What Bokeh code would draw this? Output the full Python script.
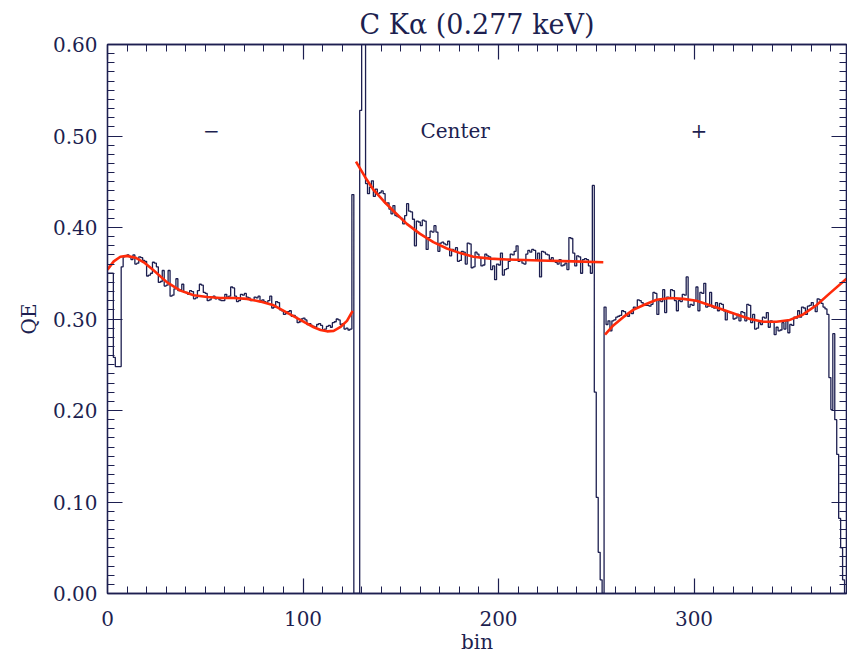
import numpy as np
from bokeh.plotting import figure
from bokeh.models import (Range1d, LinearAxis, SingleIntervalTicker, FixedTicker, PrintfTickFormatter,
                          CustomJSTickFormatter, ColumnDataSource)
from bokeh.core.properties import value
from bokeh.embed import file_html
from bokeh.resources import INLINE

# ---------------- data ----------------
# QE per bin, "-" side (bins 0..127)
qe_minus = [
    0.350, 0.350, 0.350, 0.258, 0.248, 0.248, 0.248, 0.357, 0.368, 0.369,
    0.370, 0.368, 0.365, 0.370, 0.360, 0.361, 0.368, 0.367, 0.364, 0.363,
    0.347, 0.348, 0.350, 0.362, 0.361, 0.357, 0.340, 0.341, 0.353, 0.336,
    0.337, 0.353, 0.325, 0.326, 0.333, 0.344, 0.331, 0.332, 0.338, 0.329,
    0.329, 0.327, 0.331, 0.330, 0.322, 0.323, 0.331, 0.338, 0.337, 0.329,
    0.328, 0.320, 0.321, 0.324, 0.325, 0.322, 0.323, 0.321, 0.320, 0.320,
    0.327, 0.324, 0.325, 0.335, 0.334, 0.325, 0.319, 0.320, 0.327, 0.326,
    0.328, 0.324, 0.323, 0.320, 0.321, 0.324, 0.323, 0.325, 0.320, 0.321,
    0.319, 0.318, 0.320, 0.325, 0.312, 0.313, 0.319, 0.318, 0.310, 0.309,
    0.305, 0.306, 0.308, 0.309, 0.303, 0.304, 0.302, 0.296, 0.297, 0.300,
    0.301, 0.299, 0.294, 0.295, 0.293, 0.292, 0.291, 0.294, 0.295, 0.293,
    0.288, 0.289, 0.292, 0.293, 0.291, 0.296, 0.297, 0.300, 0.299, 0.294,
    0.295, 0.289, 0.290, 0.288, 0.289, 0.436, 0.0, 0.0,
]
# "Center" section (bins 128..253)
qe_center = [
    0.0, 0.528, 0.75, 0.75, 0.448, 0.437, 0.444, 0.451, 0.434, 0.442,
    0.437, 0.438, 0.440, 0.437, 0.426, 0.427, 0.420, 0.415, 0.424, 0.413,
    0.412, 0.411, 0.410, 0.404, 0.413, 0.426, 0.418, 0.417, 0.409, 0.380,
    0.407, 0.406, 0.402, 0.408, 0.407, 0.376, 0.389, 0.396, 0.395, 0.402,
    0.395, 0.374, 0.383, 0.384, 0.382, 0.381, 0.385, 0.369, 0.376, 0.375,
    0.378, 0.363, 0.364, 0.374, 0.373, 0.360, 0.383, 0.382, 0.356, 0.357,
    0.373, 0.371, 0.367, 0.358, 0.359, 0.371, 0.369, 0.368, 0.354, 0.358,
    0.343, 0.360, 0.359, 0.372, 0.348, 0.354, 0.355, 0.363, 0.371, 0.370,
    0.374, 0.380, 0.363, 0.364, 0.361, 0.360, 0.371, 0.375, 0.373, 0.376,
    0.375, 0.365, 0.372, 0.346, 0.374, 0.373, 0.371, 0.370, 0.365, 0.367,
    0.363, 0.362, 0.360, 0.365, 0.358, 0.359, 0.361, 0.354, 0.389, 0.388,
    0.372, 0.358, 0.369, 0.368, 0.350, 0.365, 0.366, 0.365, 0.358, 0.350,
    0.446, 0.220, 0.105, 0.045, 0.015, 0.0,
]
# "+" side (bins 254..377)
qe_plus = [
    0.313, 0.294, 0.298, 0.287, 0.298, 0.299, 0.302, 0.303, 0.304, 0.309,
    0.308, 0.305, 0.303, 0.307, 0.306, 0.313, 0.312, 0.321, 0.320, 0.318,
    0.316, 0.315, 0.315, 0.314, 0.316, 0.329, 0.328, 0.305, 0.320, 0.319,
    0.332, 0.307, 0.324, 0.323, 0.332, 0.331, 0.320, 0.309, 0.320, 0.319,
    0.327, 0.326, 0.346, 0.313, 0.316, 0.315, 0.320, 0.335, 0.309, 0.329,
    0.328, 0.339, 0.313, 0.314, 0.329, 0.313, 0.312, 0.318, 0.309, 0.317,
    0.316, 0.309, 0.299, 0.308, 0.307, 0.307, 0.300, 0.301, 0.305, 0.298,
    0.308, 0.307, 0.298, 0.316, 0.315, 0.296, 0.305, 0.289, 0.290, 0.296,
    0.294, 0.302, 0.301, 0.307, 0.291, 0.298, 0.297, 0.283, 0.291, 0.287,
    0.288, 0.296, 0.289, 0.298, 0.285, 0.294, 0.293, 0.302, 0.301, 0.309,
    0.302, 0.313, 0.312, 0.305, 0.314, 0.315, 0.318, 0.314, 0.308, 0.322,
    0.321, 0.317, 0.313, 0.311, 0.305, 0.236, 0.201, 0.284, 0.190, 0.152,
    0.082, 0.050, 0.015, 0.0,
]

# fitted curves (red)
fit_minus_x = [0, 3.2, 6.6, 10, 14.3, 18.6, 23.7, 30.5, 37.3, 44.1, 51, 57.8, 64.6,
               71.4, 78.2, 85, 91.8, 98.6, 105.5, 109, 112.3, 115.7, 119, 122.5, 125.4]
fit_minus_y = [0.354, 0.363, 0.368, 0.369, 0.367, 0.362, 0.353, 0.340, 0.331, 0.326, 0.324, 0.323, 0.323,
               0.322, 0.319, 0.315, 0.307, 0.299, 0.291, 0.288, 0.2865, 0.287, 0.291, 0.298, 0.309]
fit_center_x = [127.1, 131.8, 136.1, 141.2, 146.3, 153.1, 159.9, 166.7, 173.6, 180.4,
                187.2, 195.7, 204.2, 221.3, 238.3, 253.6]
fit_center_y = [0.472, 0.455, 0.441, 0.429, 0.418, 0.404, 0.393, 0.384, 0.377, 0.372,
                0.368, 0.366, 0.365, 0.364, 0.363, 0.362]
fit_plus_x = [254.5, 258.7, 263.8, 268.9, 274, 280.9, 287.7, 294.5, 301.3, 308.1, 314.9,
              321.8, 328.6, 335.4, 342.2, 349, 355.8, 362.6, 369.4, 378]
fit_plus_y = [0.283, 0.293, 0.302, 0.310, 0.315, 0.321, 0.323, 0.322, 0.320, 0.315, 0.310,
              0.305, 0.300, 0.297, 0.297, 0.299, 0.305, 0.315, 0.328, 0.344]

section_labels = ["\u2212", "Center", "+"]
section_x = [53.1, 177.8, 302.5]
section_y = [0.506, 0.506, 0.506]

x_major_interval = 100
y_major_ticks = [0.0, 0.1, 0.2, 0.3, 0.4, 0.5, 0.6]
y_minor_ticks = np.round(np.arange(0, 0.6001, 0.01), 2).tolist()

# ---------------- figure ----------------
NAVY = "#1d1f50"
RED = "#ff2b0a"
FONT = "DejaVu Serif"

p = figure(width=847, height=656, output_backend="svg", toolbar_location=None,
           x_range=Range1d(0, 378), y_range=Range1d(0, 0.6),
           x_axis_type=None, y_axis_type=None,
           min_border_left=107, min_border_right=1, min_border_top=44, min_border_bottom=63)
p.background_fill_color = "white"
p.border_fill_color = "white"
p.outline_line_color = NAVY
p.outline_line_width = 1.3
p.grid.visible = False


def make_axis(ticker, labels=True, fmt=None):
    ax = LinearAxis(ticker=ticker)
    ax.major_tick_in = 15
    ax.major_tick_out = 0
    ax.minor_tick_in = 7
    ax.minor_tick_out = 0
    for attr in ("axis_line_color", "major_tick_line_color", "minor_tick_line_color"):
        setattr(ax, attr, NAVY)
    ax.axis_line_width = 1.3
    ax.major_tick_line_width = 1.2
    ax.minor_tick_line_width = 1.0
    ax.major_label_text_font = FONT
    ax.major_label_text_font_size = "20px"
    ax.major_label_text_color = NAVY
    ax.axis_label_text_font = FONT
    ax.axis_label_text_font_style = "normal"
    ax.axis_label_text_font_size = "20px"
    ax.axis_label_text_color = NAVY
    if fmt is not None:
        ax.formatter = fmt
    if not labels:
        ax.formatter = CustomJSTickFormatter(code="return ''")
        ax.major_label_standoff = 0
    return ax


def x_ticker():
    return SingleIntervalTicker(interval=x_major_interval, num_minor_ticks=10)


def y_ticker():
    return FixedTicker(ticks=y_major_ticks, minor_ticks=y_minor_ticks)


xb = make_axis(x_ticker())
xb.major_label_standoff = 17
xb.axis_label = "bin"
xb.axis_label_standoff = 1
p.add_layout(xb, "below")

yl = make_axis(y_ticker(), fmt=PrintfTickFormatter(format="%.2f"))
yl.major_label_standoff = 10
yl.axis_label = "QE"
yl.axis_label_standoff = 9
p.add_layout(yl, "left")

p.add_layout(make_axis(x_ticker(), labels=False), "above")
p.add_layout(make_axis(y_ticker(), labels=False), "right")

p.title.text = "C K\u03b1 (0.277 keV)"
p.title.align = "center"
p.title.text_font = FONT
p.title.text_font_size = "27px"
p.title.text_font_style = "normal"
p.title.text_color = NAVY
p.title.standoff = 9

# histogram
qe = qe_minus + qe_center + qe_plus
edges = list(range(len(qe) + 1))
p.step(x=edges, y=qe + [qe[-1]], mode="after", line_color=NAVY, line_width=1.3)

# fits
for fx, fy in ((fit_minus_x, fit_minus_y), (fit_center_x, fit_center_y), (fit_plus_x, fit_plus_y)):
    p.line(fx, fy, line_color=RED, line_width=2.6)

# section labels
src = ColumnDataSource(dict(x=section_x, y=section_y, t=section_labels))
p.text(x="x", y="y", text="t", source=src, text_font=value(FONT), text_font_size="20px",
       text_align="center", text_baseline="middle", text_color=NAVY)

open("out.html", "w").write(file_html(p, INLINE))
